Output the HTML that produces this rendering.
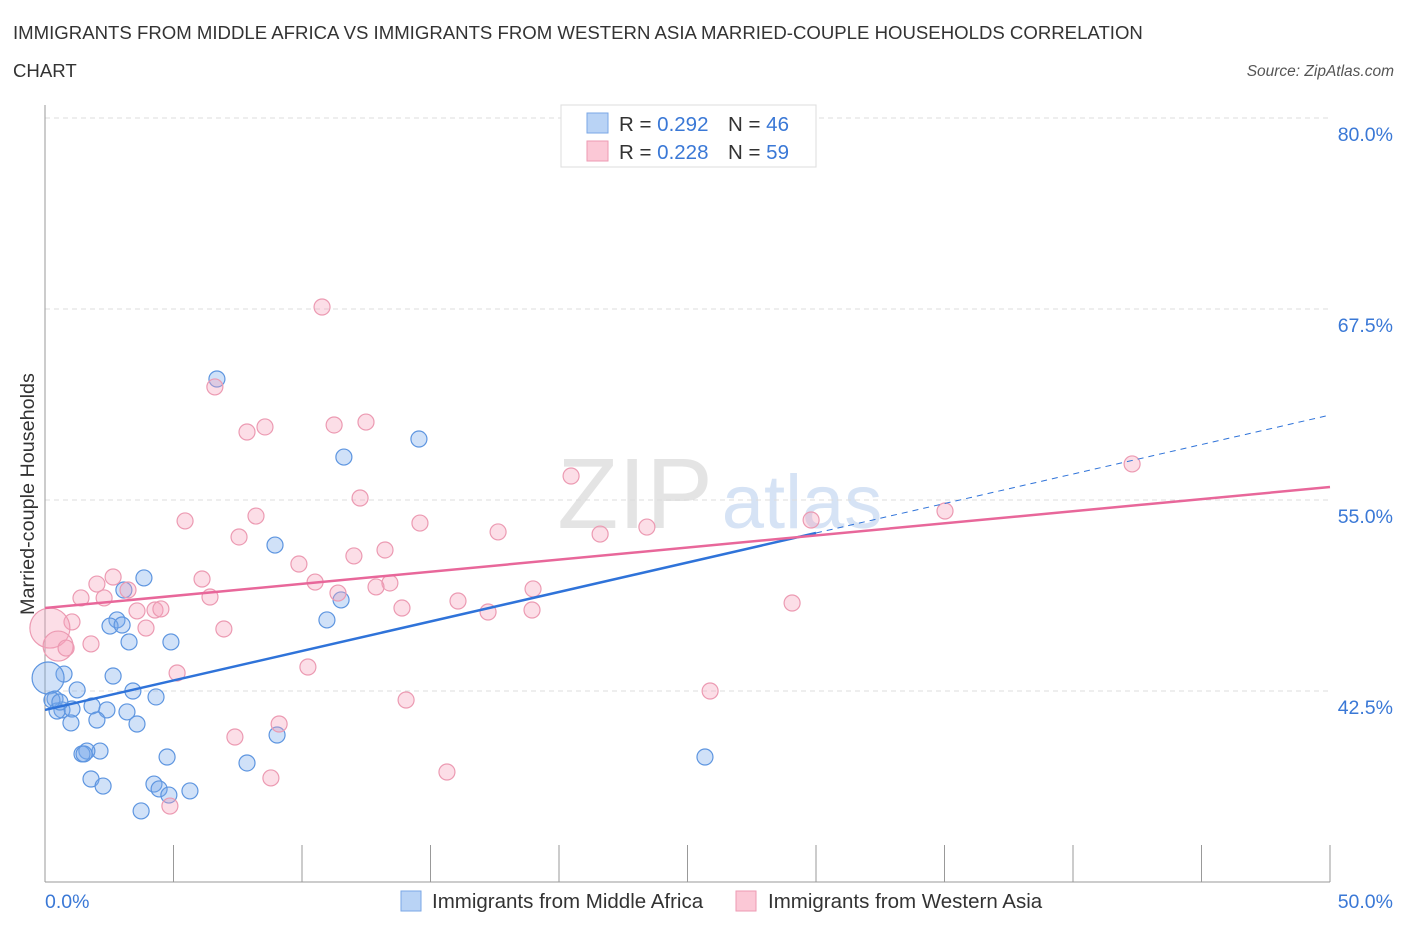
<!DOCTYPE html>
<html><head><meta charset="utf-8"><style>
body{margin:0;background:#fff;font-family:"Liberation Sans",sans-serif;}
svg text{font-family:"Liberation Sans",sans-serif;}
</style></head><body>
<svg id="chart" width="1406" height="930" xmlns="http://www.w3.org/2000/svg">
<text x="13" y="39" font-size="18.6" fill="#333">IMMIGRANTS FROM MIDDLE AFRICA VS IMMIGRANTS FROM WESTERN ASIA MARRIED-COUPLE HOUSEHOLDS CORRELATION</text>
<text x="13" y="77" font-size="18.6" fill="#333">CHART</text>
<text x="1394" y="76" font-size="15.5" fill="#555" font-style="italic" text-anchor="end">Source: ZipAtlas.com</text>
<text x="635" y="528" font-size="100" fill="#e4e4e4" font-family="Liberation Serif" text-anchor="middle">ZIP</text>
<text x="802" y="528" font-size="76" fill="#d6e3f5" text-anchor="middle">atlas</text>
<g id="grid"></g>
<g id="axes"></g>
<g id="marks"></g>
<g id="trend"></g>
<g>
<rect x="561" y="105" width="255" height="62" fill="#fff" stroke="#ddd"/>
<rect x="587" y="113" width="21" height="20" fill="#b9d3f5" stroke="#7aa7e6"/>
<rect x="587" y="141" width="21" height="20" fill="#fbc8d6" stroke="#ee9ab3"/>
<text x="619" y="131" font-size="20.5" fill="#333">R = <tspan fill="#3a78d6">0.292</tspan></text>
<text x="728" y="131" font-size="20.5" fill="#333">N = <tspan fill="#3a78d6">46</tspan></text>
<text x="619" y="159" font-size="20.5" fill="#333">R = <tspan fill="#3a78d6">0.228</tspan></text>
<text x="728" y="159" font-size="20.5" fill="#333">N = <tspan fill="#3a78d6">59</tspan></text>
</g>
<g>
<rect x="401" y="891" width="20" height="20" fill="#b9d3f5" stroke="#7aa7e6"/>
<text x="432" y="908" font-size="20.5" fill="#333">Immigrants from Middle Africa</text>
<rect x="736" y="891" width="20" height="20" fill="#fbc8d6" stroke="#ee9ab3"/>
<text x="768" y="908" font-size="20.5" fill="#333">Immigrants from Western Asia</text>
</g>
</svg>
<script>
const yTicks=[42.5,55.0,67.5,80.0];
const yTickLabels=["42.5%","55.0%","67.5%","80.0%"];
const xTickLabels=["0.0%","50.0%"];
const blueX=[6.69,14.55,11.63,8.95,3.85,3.07,11.52,2.80,2.53,3.00,10.97,3.27,4.90,2.65,0.74,0.12,1.25,3.42,4.32,0.39,1.83,0.66,2.41,1.05,3.19,0.47,2.02,3.58,1.01,9.03,7.86,2.14,1.63,1.44,4.75,25.68,1.79,4.24,2.26,5.64,4.44,4.82,3.74,0.27,0.58,1.52];
const blueY=[62.92,58.99,57.81,52.05,49.90,49.11,48.46,47.15,46.75,46.82,47.15,45.71,45.71,43.48,43.61,43.35,42.57,42.50,42.11,41.98,41.52,41.26,41.26,41.32,41.13,41.19,40.60,40.34,40.41,39.62,37.79,38.57,38.57,38.38,38.18,38.18,36.74,36.41,36.28,35.96,36.09,35.69,34.65,41.91,41.78,38.38];
const pinkX=[10.78,6.61,12.49,11.25,8.56,7.86,42.30,12.26,20.47,5.45,8.21,14.59,17.63,23.42,21.60,7.55,29.81,35.02,13.23,12.02,9.88,6.11,2.65,2.02,10.51,13.42,12.88,18.99,3.23,1.40,2.30,6.42,11.40,16.07,4.28,4.51,13.89,17.24,18.95,29.07,3.58,1.05,3.93,6.96,1.79,0.19,0.51,0.82,10.23,5.14,25.88,14.05,9.11,7.39,8.79,15.64,4.86];
const pinkY=[67.63,62.40,60.10,59.91,59.78,59.45,57.36,55.13,56.57,53.63,53.95,53.49,52.91,53.23,52.77,52.58,53.69,54.28,51.73,51.34,50.81,49.83,49.96,49.50,49.63,49.57,49.31,49.18,49.11,48.59,48.59,48.65,48.91,48.39,47.80,47.87,47.93,47.67,47.80,48.26,47.74,47.02,46.62,46.56,45.58,46.62,45.44,45.31,44.07,43.68,42.50,41.91,40.34,39.49,36.81,37.20,34.97];
const blueBig=[15];
const pinkBig=[45,46];
const blueTrend=[41.26,60.56];
const pinkTrend=[47.93,55.85];
const NS="http://www.w3.org/2000/svg";
const X0=45,X1=1330;
function sx(v){return X0+v*(X1-X0)/50;}
function sy(v){return 500-(v-55)*15.28;}
function mk(t,a,p){const e=document.createElementNS(NS,t);for(const k in a)e.setAttribute(k,a[k]);document.getElementById(p).appendChild(e);return e;}
yTicks.forEach((t,i)=>{
 const l=mk('line',{x1:X0,x2:X1,y1:sy(t),y2:sy(t),stroke:'#ddd','stroke-dasharray':'5,4'},'grid');
 
 
 const tx=mk('text',{x:1393,y:sy(t)+23,'font-size':19.5,fill:'#3a78d6','text-anchor':'end'},'grid');
 tx.textContent=yTickLabels[i];
 
 
});
let a=mk('line',{x1:X0,x2:X0,y1:105,y2:882,stroke:'#999'},'axes');


a=mk('line',{x1:X0,x2:X1,y1:882,y2:882,stroke:'#999'},'axes');


for(let i=0;i<=10;i++){
 const t=mk('line',{x1:sx(i*5),x2:sx(i*5),y1:845,y2:882,stroke:'#999'},'axes');
 
 
}
[[0,45,'start'],[1,1393,'end']].forEach(([i,x,an])=>{
 const t=mk('text',{x:x,y:908,'font-size':19.5,fill:'#3a78d6','text-anchor':an},'axes');
 t.textContent=xTickLabels[i];
 
 
});
let yl=mk('text',{x:34,y:494,'font-size':19.8,fill:'#333','text-anchor':'middle',transform:'rotate(-90 34 494)'},'axes');
yl.textContent='Married-couple Households';


blueX.forEach((v,i)=>{
 const r=blueBig.includes(i)?16:8;
 const c=mk('circle',{cx:sx(v),cy:sy(blueY[i]),r:r,fill:'rgba(120,170,235,0.35)',stroke:'#5d95e0','stroke-width':1.2},'marks');
 
 
});
pinkX.forEach((v,i)=>{
 const r=pinkBig[0]===i?20:(pinkBig[1]===i?15:8);
 const c=mk('circle',{cx:sx(v),cy:sy(pinkY[i]),r:r,fill:'rgba(245,160,185,0.35)',stroke:'#ec9ab2','stroke-width':1.2},'marks');
 
 
});
const bAt=x=>blueTrend[0]+(blueTrend[1]-blueTrend[0])*x/50;
let l=mk('line',{x1:sx(0),y1:sy(bAt(0)),x2:sx(30),y2:sy(bAt(30)),stroke:'#2f73d9','stroke-width':2.5},'trend');


l=mk('line',{x1:sx(30),y1:sy(bAt(30)),x2:sx(50),y2:sy(bAt(50)),stroke:'#2f73d9','stroke-width':1,'stroke-dasharray':'6,5'},'trend');


l=mk('line',{x1:sx(0),y1:sy(pinkTrend[0]),x2:sx(50),y2:sy(pinkTrend[1]),stroke:'#e8679a','stroke-width':2.5},'trend');


</script>
</body></html>
